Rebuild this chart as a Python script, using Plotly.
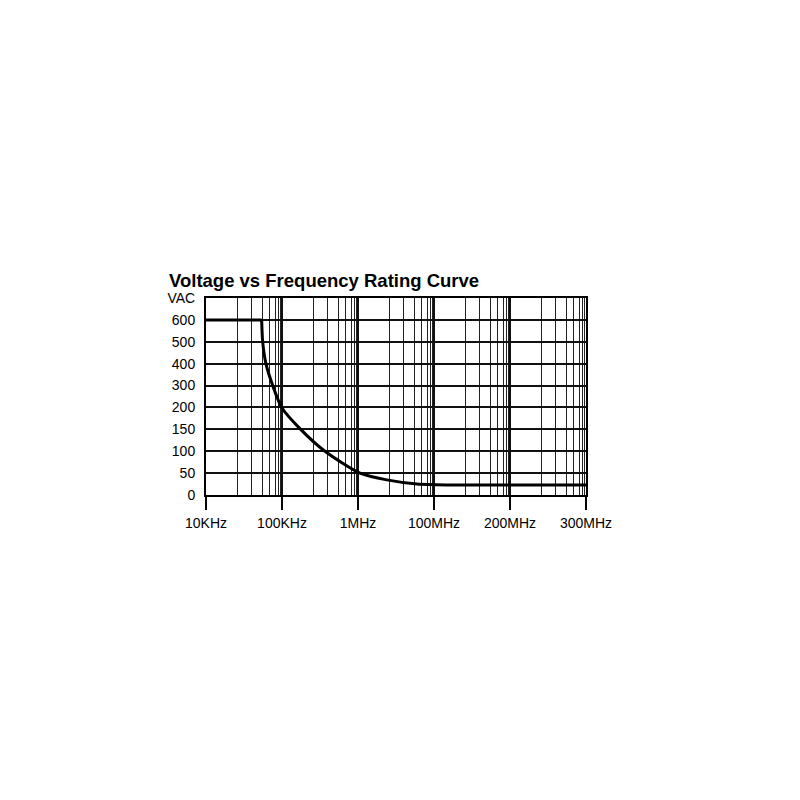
import numpy as np
import plotly.graph_objects as go

# ---- data ----
x_tick_labels = ["10KHz", "100KHz", "1MHz", "100MHz", "200MHz", "300MHz"]
x_tick_freqs_hz = [1e4, 1e5, 1e6, 1e8, 2e8, 3e8]
y_tick_labels = ["0", "50", "100", "150", "200", "300", "400", "500", "600", "VAC"]
y_tick_volts = [0, 50, 100, 150, 200, 300, 400, 500, 600]

# flat rated-voltage segment
flat_freq_hz = [1.0e4, 5.4e4]
flat_volts = [600, 600]
# derating curve
curve_freq_hz = [5.4e4, 5.57e4, 6.15e4, 7.55e4, 9.9e4, 1.76e5, 3.68e5,
                 1.13e6, 5.75e6, 3.6e7, 1.16e8, 3.0e8]
curve_volts = [600, 500, 400, 300, 200, 150, 100, 50, 34.5, 25, 23, 23]

# ---- chart's own non-uniform scales (axis positions) ----
x_pos_ticks = np.arange(len(x_tick_labels))
y_pos_ticks = np.arange(len(y_tick_labels))


def x_pos(f):
    return np.interp(np.log10(f), np.log10(x_tick_freqs_hz), x_pos_ticks)


def y_pos(v):
    return np.interp(v, y_tick_volts, y_pos_ticks[:len(y_tick_volts)])


# style: minor grid line fractions within each scale interval
minor_fracs = [0.41, 0.60, 0.74, 0.84, 0.915, 0.955, 0.985]
minor_vals = [d + f for d in range(len(x_tick_labels) - 1) for f in minor_fracs]

fig = go.Figure()
fig.add_trace(go.Scatter(
    x=x_pos(flat_freq_hz), y=y_pos(flat_volts), mode="lines",
    line=dict(color="#000000", width=3),
    showlegend=False, hoverinfo="skip"))
fig.add_trace(go.Scatter(
    x=x_pos(curve_freq_hz), y=y_pos(curve_volts), mode="lines",
    line=dict(color="#000000", width=3, shape="spline", smoothing=0.7),
    showlegend=False, hoverinfo="skip"))

fig.update_layout(
    width=800, height=800,
    margin=dict(l=206, r=214, t=298, b=305),
    paper_bgcolor="white", plot_bgcolor="white",
    font=dict(family="Liberation Sans, Arial, sans-serif", color="#000000", size=14),
    xaxis=dict(
        range=[0, len(x_tick_labels) - 1],
        tickmode="array", tickvals=x_pos_ticks, ticktext=x_tick_labels,
        ticks="outside", ticklen=13, tickwidth=1.5, tickcolor="#000",
        showgrid=True, gridcolor="#111", gridwidth=1.6,
        showline=True, linecolor="#000", linewidth=2, mirror=True,
        zeroline=False, ticklabelstandoff=1,
        minor=dict(tickmode="array", tickvals=minor_vals, showgrid=True,
                   gridcolor="#222", gridwidth=1.4, ticks=""),
        fixedrange=True),
    yaxis=dict(
        range=[0, len(y_tick_labels) - 1],
        tickmode="array", tickvals=y_pos_ticks, ticktext=y_tick_labels,
        ticks="", showgrid=True, gridcolor="#111", gridwidth=1.6,
        showline=True, linecolor="#000", linewidth=2, mirror=True,
        zeroline=False, ticklabelstandoff=6, fixedrange=True),
    annotations=[dict(
        text="<b>Voltage vs Frequency Rating Curve</b>",
        xref="paper", yref="paper", x=-0.102, y=1.0, xanchor="left", yanchor="bottom",
        yshift=5, showarrow=False,
        font=dict(family="Liberation Sans, Arial, sans-serif", size=18.5, color="#000"))],
)

fig.write_html("out.html")
